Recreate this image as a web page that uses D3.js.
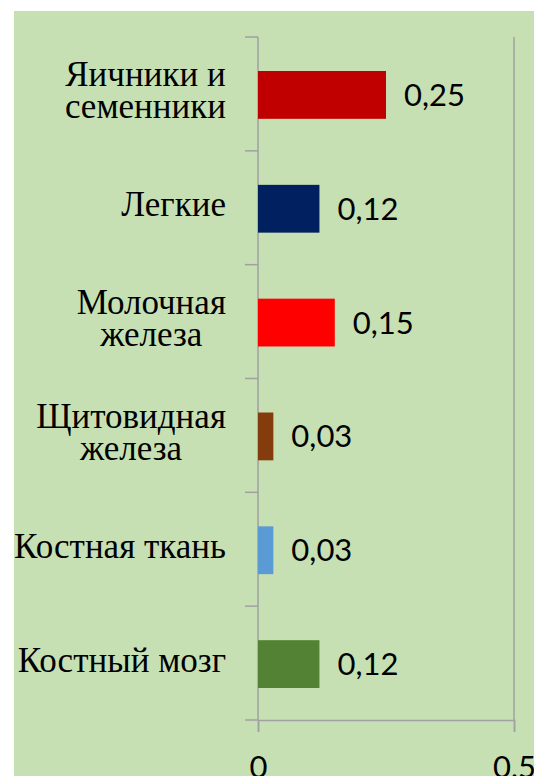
<!DOCTYPE html>
<html>
<head>
<meta charset="utf-8">
<script src="https://cdn.jsdelivr.net/npm/d3@7"></script>
<style>
  html, body { margin: 0; padding: 0; background: #fff; }
  svg { display: block; }
</style>
</head>
<body>
<div id="chart"></div>
<script>
(function() {
  var WIDTH = 534, HEIGHT = 776;

  // data
  var categories = ['Яичники и\nсеменники', 'Легкие', 'Молочная\nжелеза', 'Щитовидная\nжелеза', 'Костная ткань', 'Костный мозг'];
  var values = [0.25, 0.12, 0.15, 0.03, 0.03, 0.12];
  var barColors = ['#C00000', '#002060', '#FF0000', '#843C0C', '#5B9BD5', '#548235'];
  var tickValues = [0, 0.5];

  var data = categories.map(function(c, i) {
    return { name: c, value: values[i], color: barColors[i] };
  });

  var svg = d3.select('#chart').append('svg')
    .attr('width', WIDTH)
    .attr('height', HEIGHT);

  // green panel
  svg.append('rect')
    .attr('x', 14).attr('y', 11)
    .attr('width', WIDTH - 14).attr('height', HEIGHT - 11)
    .style('fill', '#C6E0B4');

  var x = d3.scaleLinear().domain([0, 0.5]).range([258, 514]);
  var y = d3.scaleBand().domain(categories).range([37, 720]).padding(0);
  var barH = y.bandwidth() * 0.42;
  var AXIS = '#A0A0A0';

  // gridline at 0.5
  svg.append('line')
    .attr('x1', x(0.5)).attr('x2', x(0.5))
    .attr('y1', 37).attr('y2', 720)
    .style('stroke', AXIS).style('stroke-width', 1.5);

  // value axis
  var xAxis = svg.append('g')
    .attr('transform', 'translate(0,720)')
    .call(d3.axisBottom(x).tickValues(tickValues).tickSize(12).tickPadding(24)
      .tickFormat(function(d) { return String(d).replace('.', ','); }));
  xAxis.select('.domain').style('stroke', AXIS).style('stroke-width', 1.5);
  xAxis.selectAll('.tick line').style('stroke', AXIS).style('stroke-width', 1.5);
  xAxis.selectAll('.tick text')
    .style('font-family', 'Lato, "Open Sans", sans-serif')
    .style('font-size', '31px')
    .style('fill', '#000');

  // category axis line + ticks at band edges
  svg.append('line')
    .attr('x1', x(0)).attr('x2', x(0))
    .attr('y1', 37).attr('y2', 720)
    .style('stroke', AXIS).style('stroke-width', 1.5);
  var edges = categories.map(function(c) { return y(c); }).concat([720]);
  svg.selectAll('.ctick')
    .data(edges)
    .enter().append('line')
      .attr('class', 'ctick')
      .attr('x1', x(0) - 13).attr('x2', x(0))
      .attr('y1', function(d) { return d; })
      .attr('y2', function(d) { return d; })
      .style('stroke', AXIS).style('stroke-width', 1.5);

  // bars
  svg.selectAll('.bar')
    .data(data)
    .enter().append('rect')
      .attr('class', 'bar')
      .attr('x', x(0))
      .attr('y', function(d) { return y(d.name) + (y.bandwidth() - barH) / 2 + 1; })
      .attr('width', function(d) { return x(d.value) - x(0); })
      .attr('height', barH)
      .style('fill', function(d) { return d.color; });

  // value labels
  svg.selectAll('.val')
    .data(data)
    .enter().append('text')
      .attr('class', 'val')
      .attr('x', function(d) { return x(d.value) + 18; })
      .attr('y', function(d) { return y(d.name) + y.bandwidth() / 2 + 12; })
      .style('font-family', 'Lato, "Open Sans", sans-serif')
      .style('font-size', '31px')
      .style('fill', '#000')
      .text(function(d) { return String(d.value).replace('.', ','); });

  // category labels
  var LH = 32, RIGHT = 226;
  data.forEach(function(d) {
    var lines = d.name.split('\n');
    var c = y(d.name) + y.bandwidth() / 2 - 2.5;
    var g = svg.append('g');
    var texts = lines.map(function(l, i) {
      return g.append('text')
        .attr('y', c - (lines.length - 1) * LH / 2 + i * LH + 11)
        .attr('text-anchor', 'middle')
        .style('font-family', '"Liberation Serif", "Times New Roman", serif')
        .style('font-size', '35px')
        .style('fill', '#000')
        .text(l);
    });
    var maxW = d3.max(texts, function(t) { return t.node().getComputedTextLength(); });
    texts.forEach(function(t) { t.attr('x', RIGHT - maxW / 2); });
  });
})();
</script>
</body>
</html>
